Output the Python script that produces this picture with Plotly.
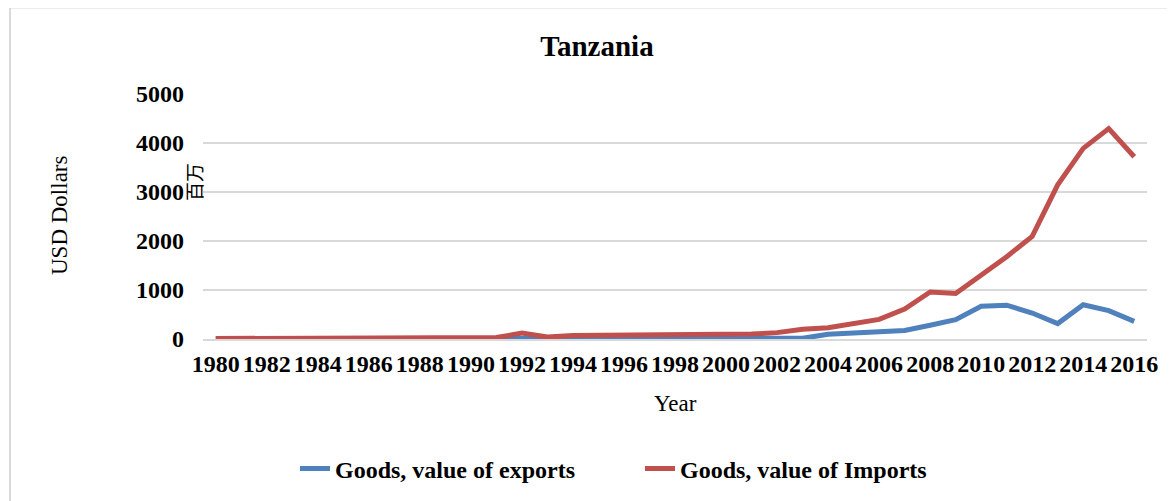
import plotly.graph_objects as go

years = list(range(1980, 2017))
exports = [5, 5, 5, 5, 5, 5, 5, 5, 5, 5, 5, 5, 25, 3, 5, 8, 10, 15, 10, 8,
           10, 12, 12, 15, 95, 125, 165, 175, 280, 395, 670, 690, 530, 315, 700, 580, 360]
imports = [10, 12, 18, 20, 25, 20, 18, 18, 18, 20, 25, 30, 120, 40, 70, 75, 70, 95, 85, 85,
           95, 100, 130, 200, 230, 320, 400, 610, 960, 930, 1290, 1680, 2095, 3145, 3890, 4295, 3720]
series_names = ["Goods, value of exports", "Goods, value of Imports"]
tick_years = list(range(1980, 2017, 2))
y_ticks = [0, 1000, 2000, 3000, 4000, 5000]

W, H = 1175, 501
OFF = 8  # page body margin offset
L, R, T, B = 203 - OFF, 1147 - OFF, 94 - OFF, 339 - OFF  # plot area in figure pixels

def px(x):
    return (x - OFF - L) / (R - L)

def py(y):
    return (B - (y - OFF)) / (B - T)

SERIF = "Times New Roman, Liberation Serif, serif"

fig = go.Figure()
fig.add_trace(go.Scatter(x=years, y=exports, mode="lines", name=f"<b>{series_names[0]}</b>",
                         line=dict(color="#4F81BD", width=5)))
fig.add_trace(go.Scatter(x=years, y=imports, mode="lines", name=f"<b>{series_names[1]}</b>",
                         line=dict(color="#C0504D", width=5)))

fig.update_layout(
    width=W, height=H,
    margin=dict(l=L, r=W - R, t=T, b=H - B, autoexpand=False),
    paper_bgcolor="white", plot_bgcolor="white",
    font=dict(family=SERIF, color="black"),
    title=dict(text="<b>Tanzania</b>", x=(597 - OFF) / W, xanchor="center",
               y=1 - (46 - OFF) / H, yanchor="middle", font=dict(size=29, family=SERIF)),
    showlegend=True,
    legend=dict(orientation="h", x=px(640), xanchor="center", y=py(469), yanchor="middle",
                font=dict(size=24, family=SERIF), entrywidth=300, entrywidthmode="pixels",
                bgcolor="rgba(0,0,0,0)"),
    xaxis=dict(range=[1979.5, 2016.5], tickmode="array", tickvals=tick_years,
               ticktext=[f"<b>{y}</b>" for y in tick_years],
               tickfont=dict(size=24, family=SERIF), showgrid=False,
               showline=True, linecolor="#D9D9D9", linewidth=1.5,
               zeroline=False, ticks="", ticklabelstandoff=2, fixedrange=True),
    yaxis=dict(range=[0, 5000], tickmode="array", tickvals=y_ticks,
               ticktext=[f"<b>{v}</b>" for v in y_ticks],
               tickfont=dict(size=24, family=SERIF), showgrid=True, gridcolor="#D9D9D9",
               gridwidth=1.5, zeroline=False, showline=False, ticks="",
               ticklabelstandoff=18, fixedrange=True),
)

fig.add_annotation(text="Year", xref="paper", yref="paper", x=px(675), y=py(403),
                   xanchor="center", yanchor="middle", showarrow=False,
                   font=dict(size=23, family=SERIF))
fig.add_annotation(text="USD Dollars", xref="paper", yref="paper", x=px(59), y=py(215),
                   xanchor="center", yanchor="middle", showarrow=False, textangle=-90,
                   font=dict(size=23, family=SERIF))
fig.add_annotation(text="百万", xref="paper", yref="paper", x=px(193), y=py(182),
                   xanchor="center", yanchor="middle", showarrow=False, textangle=-90,
                   font=dict(size=19, family="Noto Sans CJK SC"))

# chart-area border (top and left edges visible)
fig.add_shape(type="line", xref="paper", yref="paper", x0=px(10), x1=px(1190),
              y0=py(7.5), y1=py(7.5), line=dict(color="#D9D9D9", width=2))
fig.add_shape(type="line", xref="paper", yref="paper", x0=px(10), x1=px(10),
              y0=py(7.5), y1=py(520), line=dict(color="#D9D9D9", width=2))

fig.write_html("out.html", config={"displayModeBar": False})
